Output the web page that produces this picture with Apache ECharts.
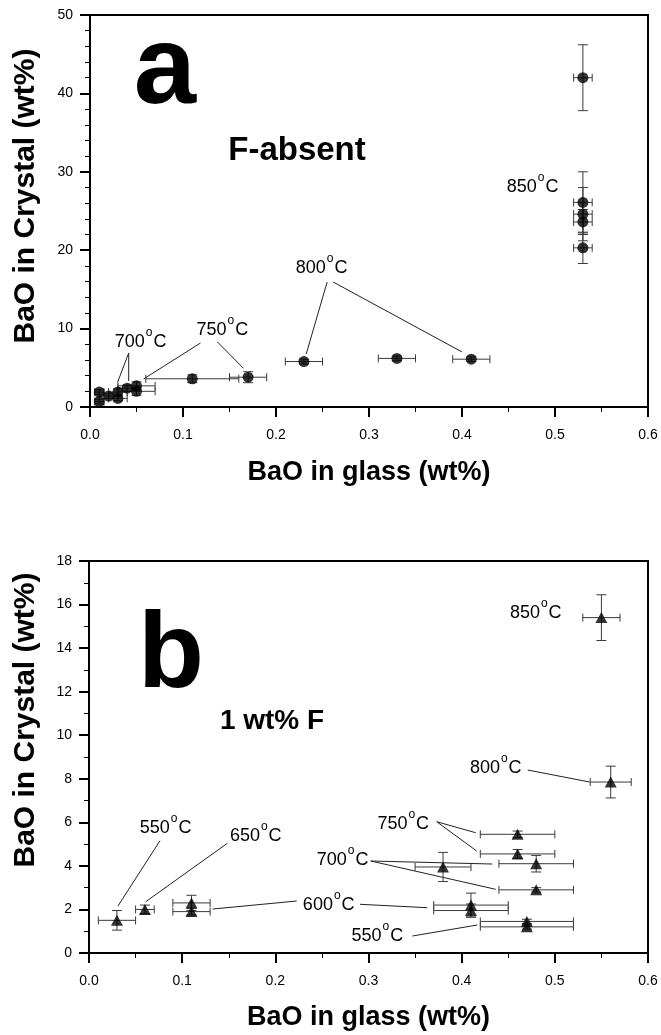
<!DOCTYPE html>
<html>
<head>
<meta charset="utf-8">
<script src="https://cdn.jsdelivr.net/npm/echarts@6/dist/echarts.min.js"></script>
<style>
  html, body { margin: 0; padding: 0; background: #fff; }
  #chart { width: 661px; height: 1035px; }
</style>
</head>
<body>
<div id="chart"></div>
<script>
// ---- panel a : F-absent (circles) ----
const aGlass = [0.01, 0.01, 0.02, 0.03, 0.03, 0.04, 0.05, 0.05, 0.11, 0.17, 0.23, 0.33, 0.41, 0.53, 0.53, 0.53, 0.53, 0.53];
const aCrystal = [1.9, 0.7, 1.4, 1.1, 1.9, 2.4, 2.7, 2.0, 3.6, 3.8, 5.8, 6.2, 6.1, 42.0, 26.1, 24.6, 23.6, 20.3];
const aGlassErr = [0.005, 0.005, 0.01, 0.01, 0.01, 0.01, 0.02, 0.02, 0.05, 0.02, 0.02, 0.02, 0.02, 0.01, 0.01, 0.01, 0.01, 0.01];
const aCrystalErr = [0.3, 0.3, 0.3, 0.3, 0.4, 0.4, 0.5, 0.5, 0.5, 0.7, 0.3, 0.3, 0.3, 4.2, 3.9, 3.4, 1.6, 2.0];

// ---- panel b : 1 wt% F (triangles) ----
const bGlass = [0.03, 0.06, 0.11, 0.11, 0.55, 0.56, 0.46, 0.46, 0.38, 0.48, 0.48, 0.41, 0.41, 0.47, 0.47];
const bCrystal = [1.5, 2.0, 2.3, 1.9, 15.4, 7.85, 5.45, 4.55, 3.95, 4.1, 2.9, 2.2, 1.95, 1.45, 1.2];
const bGlassErr = [0.02, 0.01, 0.02, 0.02, 0.02, 0.022, 0.04, 0.04, 0.03, 0.04, 0.04, 0.04, 0.04, 0.05, 0.05];
const bCrystalErr = [0.45, 0.2, 0.35, 0.15, 1.05, 0.73, 0.15, 0.2, 0.67, 0.38, 0.1, 0.55, 0.3, 0.1, 0.1];

// axis ticks
const xTicks = [0, 0.6, 0.1];
const aYTicks = [0, 50, 10];
const bYTicks = [0, 18, 2];

// temperature notes (data coords) and leader lines
const aNoteTemp = ['850', '800', '750', '700'];
const aNoteX = [0.476, 0.249, 0.1424, 0.0544];
const aNoteY = [28.2, 17.86, 9.95, 8.42];
const aLeaders = [
  [[0.0416, 6.89], [0.0298, 3.19]],
  [[0.0416, 6.89], [0.0416, 3.32]],
  [[0.1188, 8.16], [0.0576, 3.57]],
  [[0.137, 8.29], [0.165, 4.94]],
  [[0.255, 15.94], [0.2325, 6.76]],
  [[0.2615, 15.94], [0.4, 7.02]]
];

const bNoteTemp = ['850', '800', '750', '700', '600', '550', '550', '650'];
const bNoteX = [0.4795, 0.4366, 0.3373, 0.2723, 0.2573, 0.3095, 0.0823, 0.179];
const bNoteY = [15.66, 8.54, 5.97, 4.32, 2.25, 0.826, 5.785, 5.42];
const bLeaders = [
  [[0.0762, 5.156], [0.0311, 2.158]],
  [[0.1485, 5.037], [0.0609, 2.355]],
  [[0.2230, 2.387], [0.1327, 2.020]],
  [[0.2909, 2.236], [0.3632, 2.08]],
  [[0.3024, 4.224], [0.4329, 4.086]],
  [[0.3024, 4.224], [0.4365, 2.925]],
  [[0.3732, 6.028], [0.4151, 5.523]],
  [[0.3732, 6.028], [0.4161, 4.683]],
  [[0.3471, 0.7805], [0.4169, 1.286]],
  [[0.4709, 8.402], [0.5374, 7.851]]
];

const FONT = "'Liberation Sans', Arial, sans-serif";

function zip(xs, ys, ex, ey) {
  return xs.map((x, i) => [x, ys[i], ex ? ex[i] : 0, ey ? ey[i] : 0]);
}

// error bars with caps
function renderErr(params, api) {
  const x = api.value(0), y = api.value(1), dx = api.value(2), dy = api.value(3);
  const c = api.coord([x, y]);
  const l = api.coord([x - dx, y])[0], r = api.coord([x + dx, y])[0];
  const t = api.coord([x, y + dy])[1], b = api.coord([x, y - dy])[1];
  const st = { stroke: '#3a3a3a', lineWidth: 1 };
  const hc = 4, vc = 5;
  return {
    type: 'group',
    children: [
      { type: 'line', shape: { x1: l, y1: c[1], x2: r, y2: c[1] }, style: st },
      { type: 'line', shape: { x1: l, y1: c[1] - hc, x2: l, y2: c[1] + hc }, style: st },
      { type: 'line', shape: { x1: r, y1: c[1] - hc, x2: r, y2: c[1] + hc }, style: st },
      { type: 'line', shape: { x1: c[0], y1: t, x2: c[0], y2: b }, style: st },
      { type: 'line', shape: { x1: c[0] - vc, y1: t, x2: c[0] + vc, y2: t }, style: st },
      { type: 'line', shape: { x1: c[0] - vc, y1: b, x2: c[0] + vc, y2: b }, style: st }
    ]
  };
}

function renderLeader(params, api) {
  const p1 = api.coord([api.value(0), api.value(1)]);
  const p2 = api.coord([api.value(2), api.value(3)]);
  return { type: 'line', shape: { x1: p1[0], y1: p1[1], x2: p2[0], y2: p2[1] }, style: { stroke: '#222', lineWidth: 1 } };
}

// "850°C" style label, the o raised as superscript
function renderNote(params, api) {
  const p = api.coord([api.value(0), api.value(1)]);
  return {
    type: 'text', x: p[0], y: p[1] - 2,
    style: {
      text: '{n|' + api.value(2) + '}{sup|o}{n|C}',
      fill: '#000', fontSize: 18, fontFamily: FONT,
      align: 'center', verticalAlign: 'middle',
      rich: {
        n: { fontSize: 18, fontFamily: FONT, lineHeight: 25, verticalAlign: 'bottom' },
        sup: { fontSize: 12, fontFamily: FONT, lineHeight: 12, verticalAlign: 'top', padding: [0, 1, 0, 1] }
      }
    }
  };
}

function xAxisOf(gi, gap) {
  return {
    gridIndex: gi, type: 'value', min: xTicks[0], max: xTicks[1], interval: xTicks[2],
    name: 'BaO in glass (wt%)', nameLocation: 'middle', nameGap: gap,
    nameTextStyle: { fontSize: 27, fontWeight: 'bold', color: '#000', fontFamily: FONT },
    axisLine: { onZero: false, lineStyle: { color: '#000', width: 2 } },
    axisTick: { length: 10, lineStyle: { color: '#000', width: 2 } },
    minorTick: { show: true, splitNumber: 2, length: 5, lineStyle: { color: '#000', width: 1 } },
    axisLabel: { color: '#000', fontSize: 14, fontFamily: FONT, margin: 21, formatter: v => v.toFixed(1) },
    splitLine: { show: false }
  };
}

function yAxisOf(gi, ticks, minor) {
  return {
    gridIndex: gi, type: 'value', min: ticks[0], max: ticks[1], interval: ticks[2],
    axisLine: { onZero: false, lineStyle: { color: '#000', width: 2 } },
    axisTick: { length: 10, lineStyle: { color: '#000', width: 2 } },
    minorTick: { show: true, splitNumber: minor, length: 5, lineStyle: { color: '#000', width: 1 } },
    axisLabel: { color: '#000', fontSize: 14, fontFamily: FONT, margin: 17 },
    splitLine: { show: false }
  };
}

const leaderData = arr => arr.map(s => [s[0][0], s[0][1], s[1][0], s[1][1]]);
const noteData = (xs, ys, ts) => xs.map((x, i) => [x, ys[i], ts[i]]);

const chart = echarts.init(document.getElementById('chart'), null, { renderer: 'canvas' });
chart.setOption({
  backgroundColor: '#fff',
  animation: false,
  textStyle: { fontFamily: FONT },
  grid: [
    { left: 90, top: 15, width: 558, height: 392, show: true, borderColor: '#000', borderWidth: 2, backgroundColor: 'transparent' },
    { left: 89, top: 561, width: 559, height: 392, show: true, borderColor: '#000', borderWidth: 2, backgroundColor: 'transparent' }
  ],
  xAxis: [xAxisOf(0, 52), xAxisOf(1, 51)],
  yAxis: [yAxisOf(0, aYTicks, 5), yAxisOf(1, bYTicks, 2)],
  graphic: [
    { type: 'text', x: 165, y: 72, style: { text: 'a', fontSize: 112, fontWeight: 'bold', fontFamily: FONT, fill: '#000', align: 'center', verticalAlign: 'middle' } },
    { type: 'text', x: 297, y: 151, style: { text: 'F-absent', fontSize: 33, fontWeight: 'bold', fontFamily: FONT, fill: '#000', align: 'center', verticalAlign: 'middle' } },
    { type: 'text', x: 171, y: 657, style: { text: 'b', fontSize: 108, fontWeight: 'bold', fontFamily: FONT, fill: '#000', align: 'center', verticalAlign: 'middle' } },
    { type: 'text', x: 272, y: 721, style: { text: '1 wt% F', fontSize: 28, fontWeight: 'bold', fontFamily: FONT, fill: '#000', align: 'center', verticalAlign: 'middle' } },
    { type: 'text', x: 26, y: 196, rotation: Math.PI / 2, style: { text: 'BaO in Crystal (wt%)', fontSize: 30, fontWeight: 'bold', fontFamily: FONT, fill: '#000', align: 'center', verticalAlign: 'middle' } },
    { type: 'text', x: 26, y: 720, rotation: Math.PI / 2, style: { text: 'BaO in Crystal (wt%)', fontSize: 30, fontWeight: 'bold', fontFamily: FONT, fill: '#000', align: 'center', verticalAlign: 'middle' } }
  ],
  series: [
    { type: 'custom', xAxisIndex: 0, yAxisIndex: 0, renderItem: renderErr, data: zip(aGlass, aCrystal, aGlassErr, aCrystalErr), encode: { x: 0, y: 1 }, z: 2, silent: true },
    { type: 'scatter', xAxisIndex: 0, yAxisIndex: 0, symbol: 'circle', symbolSize: 11, itemStyle: { color: '#000' }, data: zip(aGlass, aCrystal).map(d => [d[0], d[1]]), z: 3 },
    { type: 'custom', xAxisIndex: 0, yAxisIndex: 0, renderItem: renderLeader, data: leaderData(aLeaders), encode: { x: [0, 2], y: [1, 3] }, z: 1, silent: true },
    { type: 'custom', xAxisIndex: 0, yAxisIndex: 0, renderItem: renderNote, data: noteData(aNoteX, aNoteY, aNoteTemp), encode: { x: 0, y: 1 }, z: 4, silent: true },

    { type: 'custom', xAxisIndex: 1, yAxisIndex: 1, renderItem: renderErr, data: zip(bGlass, bCrystal, bGlassErr, bCrystalErr), encode: { x: 0, y: 1 }, z: 2, silent: true },
    { type: 'scatter', xAxisIndex: 1, yAxisIndex: 1, symbol: 'triangle', symbolSize: [12, 11], itemStyle: { color: '#000' }, data: zip(bGlass, bCrystal).map(d => [d[0], d[1]]), z: 3 },
    { type: 'custom', xAxisIndex: 1, yAxisIndex: 1, renderItem: renderLeader, data: leaderData(bLeaders), encode: { x: [0, 2], y: [1, 3] }, z: 1, silent: true },
    { type: 'custom', xAxisIndex: 1, yAxisIndex: 1, renderItem: renderNote, data: noteData(bNoteX, bNoteY, bNoteTemp), encode: { x: 0, y: 1 }, z: 4, silent: true }
  ]
});
</script>
</body>
</html>
